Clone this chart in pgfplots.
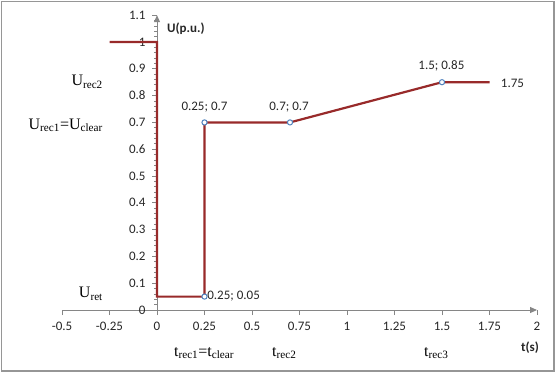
\documentclass[border=0pt]{standalone}
\usepackage{pgfplots}
\pgfplotsset{compat=1.18}
\usepackage{fontspec}
\setmainfont{Carlito}
\newfontfamily\seriff{Liberation Serif}
\usetikzlibrary{arrows.meta}
\definecolor{linered}{RGB}{152,42,42}
\definecolor{mkblue}{RGB}{79,129,189}
\definecolor{axgray}{RGB}{134,134,134}
\definecolor{framegray}{RGB}{150,150,150}
\begin{document}
\begin{tikzpicture}[x=1pt,y=1pt]
\path (0,0) rectangle (556,373);
\draw[framegray, line width=1.5pt] (1.5,2) rectangle (554,371.5);
\begin{axis}[
  at={(62pt,63pt)}, anchor=south west,
  scale only axis, width=475pt, height=294.8pt,
  xmin=-0.5, xmax=2, ymin=0, ymax=1.1,
  axis lines=middle,
  hide obscured x ticks=false, hide obscured y ticks=false,
  axis line style={axgray, line width=1pt},
  x axis line style={-{Triangle[length=7pt,width=6pt]}},
  y axis line style={-{Triangle[length=7pt,width=6pt]}},
  clip=false,
  font=\fontsize{13}{15}\selectfont,
  xtick={-0.5,-0.25,0,0.25,0.5,0.75,1,1.25,1.5,1.75,2},
  xticklabels={-0.5,-0.25,0,0.25,0.5,0.75,1,1.25,1.5,1.75,2},
  ytick={0,0.1,0.2,0.3,0.4,0.5,0.6,0.7,0.8,0.9,1,1.1},
  yticklabels={0,0.1,0.2,0.3,0.4,0.5,0.6,0.7,0.8,0.9,1,1.1},
  minor y tick num=4,
  tick style={axgray, line width=0.8pt},
  major tick length=5pt, minor tick length=3pt,
  xtick align=outside, ytick align=outside,
  xticklabel style={yshift=-4pt, text=black!85},
  yticklabel style={xshift=-3pt, text=black!85},
]
\addplot[linered, line width=2.2pt, mark=none] coordinates {
  (-0.25,1) (0,1) (0,0.05) (0.25,0.05) (0.25,0.7) (0.7,0.7) (1.5,0.85) (1.75,0.85)
};
\addplot[only marks, mark=*, mark size=2.6pt, mark options={draw=mkblue, fill=white, line width=1pt}] coordinates {
  (0.25,0.05) (0.25,0.7) (0.7,0.7) (1.5,0.85)
};
% data labels
\node[anchor=base, text=black!85] at (axis cs:0.25,0.743) {0.25; 0.7};
\node[anchor=base, text=black!85] at (axis cs:0.695,0.743) {0.7; 0.7};
\node[anchor=base, text=black!85] at (axis cs:1.497,0.896) {1.5; 0.85};
\node[anchor=base, text=black!85] at (axis cs:1.871,0.832) {1.75};
\node[anchor=base west, inner sep=0pt, text=black!85] at (axis cs:0.264,0.041) {0.25; 0.05};
% axis titles
\node[anchor=west, text=black!85] at (axis cs:0.035,1.05) {\textbf{U(p.u.)}};
\node[text=black!85] at (axis cs:1.963,-0.142) {\textbf{t(s)}};
% serif labels
\node[anchor=base east, inner sep=0pt] at (axis cs:-0.284,0.836) {\seriff\fontsize{16}{19}\selectfont U\textsubscript{rec2}};
\node[anchor=base east, inner sep=0pt] at (axis cs:-0.284,0.675) {\seriff\fontsize{16}{19}\selectfont U\textsubscript{rec1}=U\textsubscript{clear}};
\node[anchor=base east, inner sep=0pt] at (axis cs:-0.284,0.045) {\seriff\fontsize{16}{19}\selectfont U\textsubscript{ret}};
\node[anchor=base west, inner sep=0pt] at (axis cs:0.089,-0.172) {\seriff\fontsize{16}{19}\selectfont t\textsubscript{rec1}=t\textsubscript{clear}};
\node[anchor=base west, inner sep=0pt] at (axis cs:0.605,-0.172) {\seriff\fontsize{16}{19}\selectfont t\textsubscript{rec2}};
\node[anchor=base west, inner sep=0pt] at (axis cs:1.405,-0.172) {\seriff\fontsize{16}{19}\selectfont t\textsubscript{rec3}};
\end{axis}
\end{tikzpicture}
\end{document}
